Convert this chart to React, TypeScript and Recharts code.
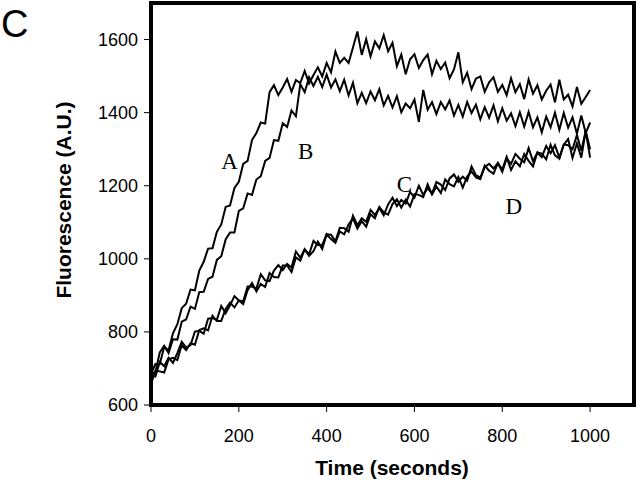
import React from "react";
import {
  LineChart,
  Line,
  XAxis,
  YAxis,
  ReferenceArea,
  ReferenceDot,
  Label,
} from "recharts";

// time points (seconds)
const TIME = [
  0, 10, 20, 30, 40, 50, 60, 70, 80, 90, 100, 110, 120, 130, 140, 150, 160, 170, 180, 190,
  200, 210, 220, 230, 240, 250, 260, 270, 280, 290, 300, 310, 320, 330, 340, 350, 360, 370, 380, 390,
  400, 410, 420, 430, 440, 450, 460, 470, 480, 490, 500, 510, 520, 530, 540, 550, 560, 570, 580, 590,
  600, 610, 620, 630, 640, 650, 660, 670, 680, 690, 700, 710, 720, 730, 740, 750, 760, 770, 780, 790,
  800, 810, 820, 830, 840, 850, 860, 870, 880, 890, 900, 910, 920, 930, 940, 950, 960, 970, 980, 990,
  1000,
];

const CURVE_A = [
  685, 712, 712, 759, 750, 796, 821, 865, 877, 916, 914, 968, 992, 1028, 1029, 1074, 1094, 1142, 1146, 1194,
  1211, 1260, 1268, 1325, 1344, 1373, 1370, 1456, 1475, 1448, 1469, 1492, 1457, 1489, 1481, 1514, 1480, 1503, 1524, 1499,
  1536, 1510, 1567, 1536, 1550, 1536, 1578, 1622, 1558, 1601, 1554, 1595, 1576, 1612, 1568, 1591, 1527, 1559, 1505, 1546,
  1560, 1522, 1544, 1559, 1505, 1542, 1519, 1537, 1494, 1518, 1565, 1483, 1509, 1464, 1493, 1499, 1457, 1483, 1497, 1457,
  1476, 1448, 1494, 1456, 1478, 1437, 1491, 1452, 1475, 1436, 1460, 1477, 1428, 1490, 1436, 1449, 1417, 1470, 1424, 1443,
  1462,
];

const CURVE_B = [
  686, 690, 744, 762, 742, 780, 779, 828, 834, 869, 863, 909, 910, 945, 951, 997, 1007, 1053, 1072, 1072,
  1131, 1138, 1179, 1175, 1217, 1226, 1268, 1276, 1325, 1323, 1371, 1361, 1406, 1390, 1478, 1456, 1497, 1473, 1498, 1470,
  1504, 1469, 1491, 1459, 1490, 1447, 1482, 1426, 1454, 1426, 1458, 1434, 1464, 1420, 1446, 1414, 1445, 1401, 1425, 1412,
  1436, 1375, 1462, 1408, 1429, 1396, 1429, 1409, 1433, 1392, 1421, 1389, 1429, 1399, 1422, 1382, 1415, 1386, 1420, 1376,
  1412, 1378, 1398, 1363, 1401, 1362, 1402, 1360, 1387, 1346, 1389, 1360, 1400, 1353, 1399, 1359, 1387, 1342, 1392, 1344,
  1373,
];

const CURVE_C = [
  685, 678, 718, 706, 729, 715, 742, 773, 757, 764, 801, 803, 795, 836, 838, 833, 871, 851, 873, 898,
  886, 884, 924, 924, 918, 958, 941, 939, 968, 983, 969, 986, 976, 1020, 1003, 1026, 1012, 1049, 1038, 1038,
  1067, 1066, 1048, 1085, 1084, 1074, 1118, 1092, 1111, 1101, 1134, 1120, 1139, 1119, 1149, 1167, 1144, 1161, 1151, 1183,
  1168, 1200, 1175, 1193, 1179, 1210, 1203, 1188, 1220, 1231, 1211, 1225, 1214, 1253, 1229, 1222, 1251, 1260, 1247, 1262,
  1238, 1275, 1260, 1287, 1274, 1264, 1303, 1267, 1291, 1278, 1309, 1289, 1311, 1277, 1313, 1311, 1300, 1339, 1296, 1350,
  1300,
];

const CURVE_D = [
  657, 694, 692, 689, 725, 729, 723, 764, 750, 769, 765, 805, 810, 804, 844, 830, 830, 863, 880, 867,
  886, 876, 914, 934, 911, 931, 923, 961, 950, 949, 982, 982, 964, 1004, 995, 1026, 1008, 1021, 1047, 1027,
  1067, 1054, 1044, 1075, 1067, 1094, 1111, 1083, 1103, 1088, 1122, 1111, 1142, 1127, 1121, 1150, 1163, 1140, 1162, 1143,
  1177, 1175, 1169, 1204, 1176, 1198, 1180, 1217, 1204, 1198, 1224, 1195, 1225, 1239, 1223, 1218, 1255, 1241, 1233, 1262,
  1244, 1279, 1243, 1267, 1253, 1287, 1268, 1253, 1291, 1288, 1272, 1312, 1283, 1274, 1312, 1328, 1276, 1316, 1277, 1350,
  1277,
];

const X_TICKS = [0, 200, 400, 600, 800, 1000];
const Y_TICKS = [600, 800, 1000, 1200, 1400, 1600];

// curve tags: [text, time, fluorescence]
const TAGS: [string, number, number][] = [
  ["A", 179, 1268],
  ["B", 352, 1296],
  ["C", 577, 1206],
  ["D", 826, 1146],
];

const data = TIME.map((t, i) => ({
  t,
  a: CURVE_A[i],
  b: CURVE_B[i],
  c: CURVE_C[i],
  d: CURVE_D[i],
}));

const SANS = '"Liberation Sans", Arial, sans-serif';
const SERIF = '"Liberation Serif", "Times New Roman", serif';
const tickStyle = { fontFamily: SANS, fontSize: 18, fill: "#000" };

export default function App() {
  return (
    <div style={{ position: "absolute", left: 0, top: 0, background: "#fff" }}>
      <LineChart
        width={640}
        height={485}
        data={data}
        margin={{ top: 3, right: 6, bottom: 50, left: 91 }}
      >
        <XAxis
          dataKey="t"
          type="number"
          domain={[0, 1100]}
          ticks={X_TICKS}
          axisLine={false}
          tickLine={{ stroke: "#000", strokeWidth: 1 }}
          tickSize={7}
          tickMargin={17}
          tick={tickStyle}
          height={30}
        >
          <Label
            content={() => (
              <text
                x={392}
                y={475}
                textAnchor="middle"
                style={{ fontFamily: SANS, fontSize: 21, fontWeight: "bold" }}
                fill="#000"
              >
                Time (seconds)
              </text>
            )}
          />
        </XAxis>
        <YAxis
          type="number"
          domain={[600, 1700]}
          ticks={Y_TICKS}
          axisLine={false}
          tickLine={{ stroke: "#000", strokeWidth: 1 }}
          tickSize={7}
          tickMargin={6}
          tick={tickStyle}
          width={60}
        >
          <Label
            content={() => (
              <g>
                <text
                  x={71}
                  y={200}
                  transform="rotate(-90 71 200)"
                  textAnchor="middle"
                  style={{ fontFamily: SANS, fontSize: 21, fontWeight: "bold" }}
                  fill="#000"
                >
                  Fluorescence (A.U.)
                </text>
                <text x={1} y={37} style={{ fontFamily: SANS, fontSize: 38 }} fill="#000">
                  C
                </text>
              </g>
            )}
          />
        </YAxis>
        <Line dataKey="a" stroke="#000" strokeWidth={2} dot={false} isAnimationActive={false} />
        <Line dataKey="b" stroke="#000" strokeWidth={2} dot={false} isAnimationActive={false} />
        <Line dataKey="c" stroke="#000" strokeWidth={2} dot={false} isAnimationActive={false} />
        <Line dataKey="d" stroke="#000" strokeWidth={2} dot={false} isAnimationActive={false} />
        <ReferenceArea
          x1={0}
          x2={1100}
          y1={600}
          y2={1700}
          fill="none"
          stroke="#000"
          strokeWidth={4}
        />
        {TAGS.map(([name, t, v]) => (
          <ReferenceDot
            key={name}
            x={t}
            y={v}
            r={0}
            fill="none"
            stroke="none"
            label={{
              value: name,
              position: "center",
              style: { fontFamily: SERIF, fontSize: 23, fill: "#000" },
            }}
          />
        ))}
      </LineChart>
    </div>
  );
}
